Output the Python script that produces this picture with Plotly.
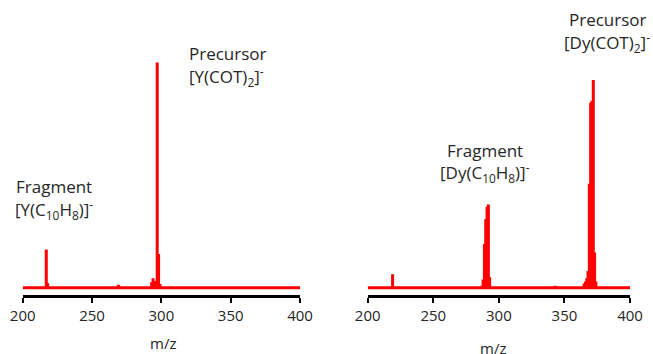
import plotly.graph_objects as go

# ---- data (relative intensity, % of each panel's base peak) ----
y_mz = [217, 218, 269, 293, 294, 295, 297, 298, 299]
y_int = [17, 2, 1.3, 2.4, 4.2, 3, 100, 15, 1.6]

dy_mz = [219, 287, 288, 289, 290, 291, 292, 293, 343, 365, 366, 367, 368, 369, 370, 371, 372, 373, 374]
dy_int = [6.5, 1, 4, 21, 33, 39, 40, 5, 1, 2, 3, 4.5, 8, 50, 89, 90, 100, 17, 3]

x_ticks = [200, 250, 300, 350, 400]
x_range = [200, 400]

W, H = 653, 354


def stick(mz, inten, lo, hi):
    xs, ys = [lo], [0]
    for m, v in zip(mz, inten):
        xs += [m, m, m]
        ys += [0, v, 0]
    xs.append(hi)
    ys.append(0)
    return xs, ys


def px(x):
    return x / W


def py(y):
    return 1 - y / H


RED = "#ff0000"
TXT = "#262626"
FONT = "Open Sans"

fig = go.Figure()
xs, ys = stick(y_mz, y_int, x_range[0], x_range[1])
fig.add_trace(go.Scatter(x=xs, y=ys, mode="lines", line=dict(color=RED, width=3),
                         xaxis="x", yaxis="y", showlegend=False, hoverinfo="skip"))
xs, ys = stick(dy_mz, dy_int, x_range[0], x_range[1])
fig.add_trace(go.Scatter(x=xs, y=ys, mode="lines", line=dict(color=RED, width=3),
                         xaxis="x2", yaxis="y2", showlegend=False, hoverinfo="skip"))

ydom = [py(295), py(50)]
axis_common = dict(range=x_range, tickvals=x_ticks, showgrid=False, zeroline=False,
                   showline=True, linecolor="black", linewidth=3, automargin=False,
                   ticks="outside", ticklen=5, tickwidth=2, tickcolor="black",
                   tickfont=dict(family=FONT, size=15, color=TXT))
yaxis_common = dict(visible=False, showgrid=False, zeroline=False, domain=ydom, automargin=False)

fig.update_layout(
    width=W, height=H, margin=dict(l=0, r=0, t=0, b=0, autoexpand=False),
    paper_bgcolor="white", plot_bgcolor="white",
    xaxis=dict(domain=[px(22.7), px(300)], anchor="y", **axis_common),
    xaxis2=dict(domain=[px(367.7), px(630)], anchor="y2", **axis_common),
    yaxis=dict(range=[-3.24, 105.5], anchor="x", **yaxis_common),
    yaxis2=dict(range=[-3.51, 114.4], anchor="x2", **yaxis_common),
)

labels = [
    ("Fragment", 53.5, 186),
    ("[Y(C<sub>10</sub>H<sub>8</sub>)]<sup>-</sup>", 53.5, 209),
    ("Precursor", 227.5, 53),
    ("[Y(COT)<sub>2</sub>]<sup>-</sup>", 226, 76),
    ("Fragment", 484.7, 150),
    ("[Dy(C<sub>10</sub>H<sub>8</sub>)]<sup>-</sup>", 484.7, 172),
    ("Precursor", 607.5, 19.5),
    ("[Dy(COT)<sub>2</sub>]<sup>-</sup>", 606.5, 42),
]
for t, x, y in labels:
    fig.add_annotation(text=t, x=px(x), y=py(y), xref="paper", yref="paper",
                       xanchor="center", yanchor="middle", showarrow=False,
                       font=dict(family=FONT, size=17, color=TXT))

for x, y in [(163.3, 342.7), (493.3, 347.5)]:
    fig.add_annotation(text="m/z", x=px(x), y=py(y), xref="paper", yref="paper",
                       xanchor="center", yanchor="middle", showarrow=False,
                       font=dict(family=FONT, size=15, color=TXT))

fig.write_html("out.html", config={"displayModeBar": False},
               post_script="document.body.style.margin='0';document.body.style.overflow='hidden';")
